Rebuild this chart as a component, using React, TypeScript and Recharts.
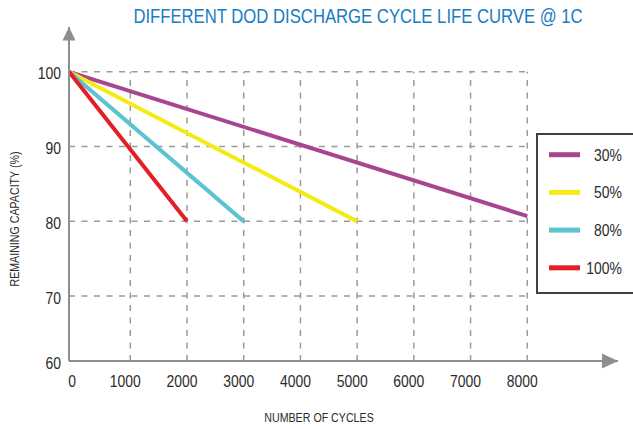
import React from 'react';
import { LineChart, Line, XAxis, YAxis, ReferenceLine, ReferenceDot } from 'recharts';

// ---- data ----
const seriesNames = ['30%', '50%', '80%', '100%'];
const seriesColors = ['#a8458f', '#f6ea14', '#5cc3cf', '#e41e26'];
const cycles30 = [0, 8000];
const capacity30 = [100, 80.7];
const cycles50 = [0, 5000];
const capacity50 = [100, 80];
const cycles80 = [0, 3000];
const capacity80 = [100, 80];
const cycles100 = [0, 2000];
const capacity100 = [100, 80];
const xTicks = [0, 1000, 2000, 3000, 4000, 5000, 6000, 7000, 8000];
const yTicks = [60, 70, 80, 90, 100];
const xAxisEnd = 9600; // arrow tip
const yAxisEnd = 106; // arrow tip

const seriesCycles = [cycles30, cycles50, cycles80, cycles100];
const seriesCapacity = [capacity30, capacity50, capacity80, capacity100];
const seriesData = seriesCycles.map((cs, i) => cs.map((c, j) => ({ x: c, y: seriesCapacity[i][j] })));

const FONT = "'Liberation Sans', Arial, sans-serif";
const NARROW = 0.82;
const GRID = '#9b9b9b';
const AXIS = '#8e8e8e';
const TEXT = '#2b2b2b';

// piecewise-linear scale: first interval (lo..knot) drawn with a different unit size,
// as in the reference picture
function createWarpScale(lo: number, knot: number, stretch: number): any {
  let dom: number[] = [0, 1];
  let rng: number[] = [0, 1];
  const warp = (v: number) => (v < knot ? lo + (v - lo) * stretch : lo + (knot - lo) * stretch + (v - knot));
  const unwarp = (w: number) => {
    const wk = lo + (knot - lo) * stretch;
    return w < wk ? lo + (w - lo) / stretch : knot + (w - wk);
  };
  const scale: any = (v: any) => {
    const a = warp(dom[0]);
    const b = warp(dom[dom.length - 1]);
    if (b === a) return rng[0];
    return rng[0] + ((rng[1] - rng[0]) * (warp(Number(v)) - a)) / (b - a);
  };
  scale.domain = (...args: any[]) => {
    if (args.length === 0) return dom.slice();
    dom = Array.from(args[0] as any[], Number);
    return scale;
  };
  scale.range = (...args: any[]) => {
    if (args.length === 0) return rng.slice();
    rng = Array.from(args[0] as any[], Number);
    return scale;
  };
  scale.invert = (px: number) => {
    const a = warp(dom[0]);
    const b = warp(dom[dom.length - 1]);
    return unwarp(a + ((px - rng[0]) * (b - a)) / (rng[1] - rng[0]));
  };
  scale.ticks = (n = 10) => {
    const d0 = dom[0];
    const d1 = dom[dom.length - 1];
    const step = (d1 - d0) / n;
    const out: number[] = [];
    for (let i = 0; i <= n; i++) out.push(d0 + i * step);
    return out;
  };
  scale.tickFormat = () => (d: any) => String(d);
  scale.nice = () => scale;
  scale.clamp = () => scale;
  scale.unknown = () => scale;
  scale.copy = () => {
    const c = createWarpScale(lo, knot, stretch);
    c.domain(dom);
    c.range(rng);
    return c;
  };
  return scale;
}

const xScale = createWarpScale(0, 1000, 1.081);
const yScale = createWarpScale(60, 70, 0.868);

// Arial-Narrow-like text: Liberation Sans squeezed horizontally
const NText = (props: any) => {
  const { x, y, anchor = 'middle', size, fill = TEXT, dy = 0, rotate = 0, sx = NARROW, children } = props;
  return (
    <text
      transform={`translate(${x},${y}) rotate(${rotate}) scale(${sx},1)`}
      x={0}
      y={0}
      dy={dy}
      textAnchor={anchor}
      fontFamily={FONT}
      fontSize={size}
      fill={fill}
    >
      {children}
    </text>
  );
};

const XTick = (props: any) => {
  const { x, y, payload, index } = props;
  const dx = index === 0 ? 3 : -5;
  return (
    <NText x={x + dx} y={y} dy="0.71em" size={17}>
      {payload.value}
    </NText>
  );
};

const YTick = (props: any) => {
  const { x, y, payload } = props;
  return (
    <NText x={x} y={y + 1.5} dy="0.355em" anchor="end" size={17}>
      {payload.value}
    </NText>
  );
};

const UpArrow = (p: any) => (
  <path d={`M${p.cx},${p.cy} L${p.cx - 6.5},${p.cy + 13.5} L${p.cx + 6.5},${p.cy + 13.5} Z`} fill={AXIS} />
);
const RightArrow = (p: any) => (
  <path d={`M${p.cx},${p.cy} L${p.cx - 16},${p.cy - 7.5} L${p.cx - 16},${p.cy + 7.5} Z`} fill={AXIS} />
);

export default function App() {
  const gridX = xTicks.filter((v) => v > xTicks[0]);
  const gridY = yTicks.filter((v) => v > yTicks[0]);
  const xMax = xTicks[xTicks.length - 1];
  const yMax = yTicks[yTicks.length - 1];
  const legendTop = 154.7;
  const legendStep = 37.7;
  return (
    <div style={{ position: 'absolute', left: 0, top: 0, width: 633, height: 429, overflow: 'hidden', background: '#fff' }}>
      <LineChart width={633} height={429} margin={{ top: 27, right: 15, bottom: 38, left: 19 }}>
        <XAxis
          type="number"
          dataKey="x"
          domain={[xTicks[0], xAxisEnd]}
          scale={xScale}
          ticks={xTicks}
          interval={0}
          allowDataOverflow
          height={30}
          tickSize={0}
          tickMargin={14}
          tickLine={false}
          axisLine={{ stroke: AXIS, strokeWidth: 2 }}
          tick={<XTick />}
        />
        <YAxis
          type="number"
          dataKey="y"
          domain={[yTicks[0], yAxisEnd]}
          scale={yScale}
          ticks={yTicks}
          interval={0}
          allowDataOverflow
          width={50}
          tickSize={0}
          tickMargin={8}
          tickLine={false}
          axisLine={{ stroke: AXIS, strokeWidth: 2 }}
          tick={<YTick />}
        />
        {gridX.map((v) => (
          <ReferenceLine
            key={'gx' + v}
            segment={[
              { x: v, y: yTicks[0] },
              { x: v, y: yMax },
            ]}
            stroke={GRID}
            strokeWidth={1.5}
            strokeDasharray="6 6.5"
            ifOverflow="visible"
          />
        ))}
        {gridY.map((v) => (
          <ReferenceLine
            key={'gy' + v}
            segment={[
              { x: xTicks[0], y: v },
              { x: xMax, y: v },
            ]}
            stroke={GRID}
            strokeWidth={1.5}
            strokeDasharray="6 6.5"
            ifOverflow="visible"
          />
        ))}
        {seriesData.map((d, i) => (
          <Line
            key={seriesNames[i]}
            data={d}
            dataKey="y"
            name={seriesNames[i]}
            stroke={seriesColors[i]}
            strokeWidth={4}
            dot={false}
            isAnimationActive={false}
          />
        ))}
        <ReferenceDot x={xTicks[0]} y={yAxisEnd} r={1} ifOverflow="visible" shape={UpArrow} />
        <ReferenceDot x={xAxisEnd} y={yTicks[0]} r={1} ifOverflow="visible" shape={RightArrow} />
      </LineChart>
      <svg width={633} height={429} style={{ position: 'absolute', left: 0, top: 0, pointerEvents: 'none' }}>
        <NText x={358} y={23.3} size={20} sx={0.835} fill="#1a7cc1">
          DIFFERENT DOD DISCHARGE CYCLE LIFE CURVE @ 1C
        </NText>
        <NText x={14} y={219} dy="0.35em" size={13} rotate={-90}>
          REMAINING CAPACITY (%)
        </NText>
        <NText x={319} y={417} dy="0.35em" size={13}>
          NUMBER OF CYCLES
        </NText>
        <rect x={537} y={134} width={110} height={159} fill="#fff" stroke="#463e3e" strokeWidth={2} />
        {seriesNames.map((n, i) => {
          const cy = legendTop + i * legendStep;
          return (
            <g key={n}>
              <rect x={549} y={cy - 2.5} width={31} height={5} fill={seriesColors[i]} />
              <NText x={622} y={cy} dy="0.35em" anchor="end" size={17}>
                {n}
              </NText>
            </g>
          );
        })}
      </svg>
    </div>
  );
}
